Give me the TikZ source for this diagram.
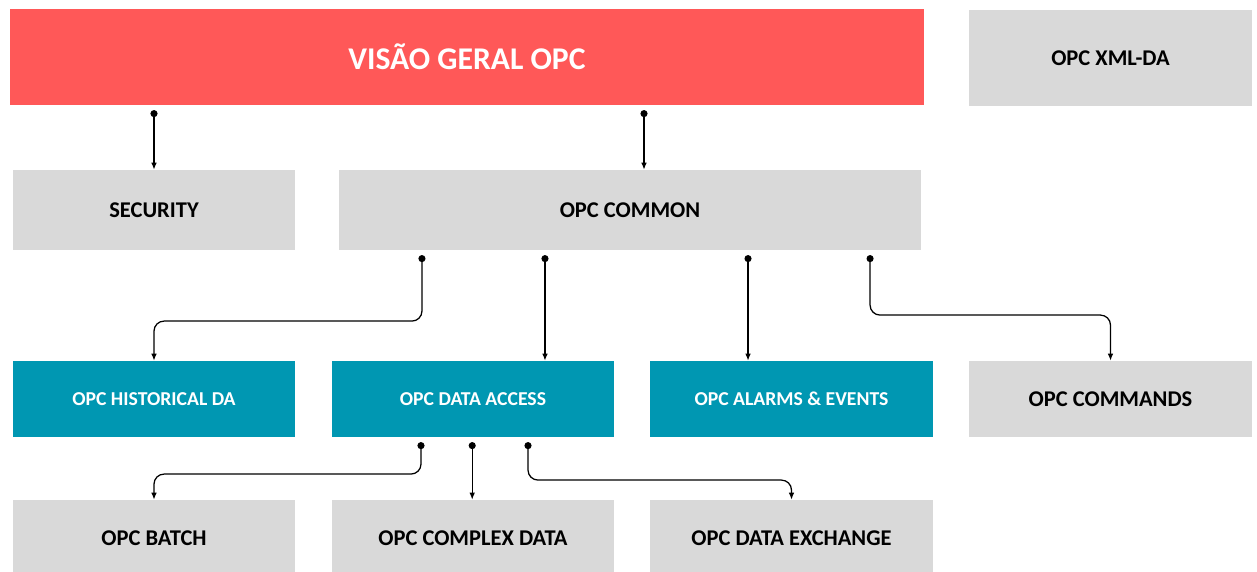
\documentclass[tikz,border=0pt]{standalone}
\usepackage{fontspec}
\setmainfont{Carlito}
\usepackage{xcolor}
\usepackage{tikz}
\usetikzlibrary{arrows.meta, positioning, calc}
\definecolor{titlered}{RGB}{255, 88, 88}
\definecolor{boxgray}{RGB}{217, 217, 217}
\definecolor{specteal}{RGB}{0, 151, 178}

\begin{document}
\begin{tikzpicture}[
    x=0.025cm, y=-0.025cm,
    base/.style={inner sep=0pt, align=center, font=\bfseries},
    titlebox/.style={base, fill=titlered, text=white, font=\fontsize{22.5}{26}\selectfont\bfseries},
    graybox/.style={base, fill=boxgray, text=black, font=\fontsize{16}{19}\selectfont\bfseries},
    tealbox/.style={base, fill=specteal, text=white, font=\fontsize{14}{17}\selectfont\bfseries},
    wide/.style={minimum width=7.05cm},
    arrow/.style={{Circle[length=5pt]}-{Latex[length=5pt, width=4pt]}, line width=0.9pt, rounded corners=0.25cm}
]
    \useasboundingbox (0,0) rectangle (1257,572);

    % top row
    \node[titlebox, minimum width=22.85cm, minimum height=2.4cm] (overview) at (467,57) {VISÃO GERAL OPC};
    \node[graybox, minimum width=7.075cm, minimum height=2.4cm] (xmlda) at (1110.5,58) {OPC XML-DA};

    % second row
    \node[graybox, wide, minimum height=2cm] (security) at (154,210) {SECURITY};
    \node[graybox, minimum width=14.55cm, minimum height=2cm] (common) at (630,210) {OPC COMMON};

    % specifications
    \node[tealbox, wide, minimum height=1.9cm] (historical) at (154,399) {OPC HISTORICAL DA};
    \node[tealbox, wide, minimum height=1.9cm] (dataaccess) at (473,399) {OPC DATA ACCESS};
    \node[tealbox, wide, minimum height=1.9cm] (alarms) at (791.5,399) {OPC ALARMS \& EVENTS};
    \node[graybox, wide, minimum height=1.9cm] (commands) at (1110.5,399) {OPC COMMANDS};

    % bottom row
    \node[graybox, wide, minimum height=1.9cm] (batch) at (154,538) {OPC BATCH};
    \node[graybox, wide, minimum height=1.9cm] (complex) at (473,538) {OPC COMPLEX DATA};
    \node[graybox, wide, minimum height=1.9cm] (exchange) at (791.5,538) {OPC DATA EXCHANGE};

    % connector start points
    \coordinate (ovr) at ([xshift=0.35cm]common.north);
    \coordinate (c1) at ([xshift=-5.2cm, yshift=-0.12cm]common.south);
    \coordinate (c2) at ([xshift=-2.125cm, yshift=-0.12cm]common.south);
    \coordinate (c3) at ([xshift=2.95cm, yshift=-0.12cm]common.south);
    \coordinate (c4) at ([xshift=6cm, yshift=-0.12cm]common.south);
    \coordinate (d1) at ([xshift=-1.3cm, yshift=-0.12cm]dataaccess.south);
    \coordinate (d2) at ([xshift=-0.02cm, yshift=-0.12cm]dataaccess.south);
    \coordinate (d3) at ([xshift=1.375cm, yshift=-0.12cm]dataaccess.south);

    \draw[arrow] ([yshift=-0.12cm]overview.south -| security.north) -- (security.north);
    \draw[arrow] ([yshift=-0.12cm]overview.south -| ovr) -- (ovr);

    \draw[arrow] (c1) -- ++(0,66) -| (historical.north);
    \draw[arrow] (c2) -- (c2 |- dataaccess.north);
    \draw[arrow] (c3) -- (c3 |- alarms.north);
    \draw[arrow] (c4) -- ++(0,60) -| (commands.north);

    \draw[arrow] (d1) -- ++(0,32) -| (batch.north);
    \draw[arrow] (d2) -- (d2 |- complex.north);
    \draw[arrow] (d3) -- ++(0,38) -| (exchange.north);
\end{tikzpicture}
\end{document}
